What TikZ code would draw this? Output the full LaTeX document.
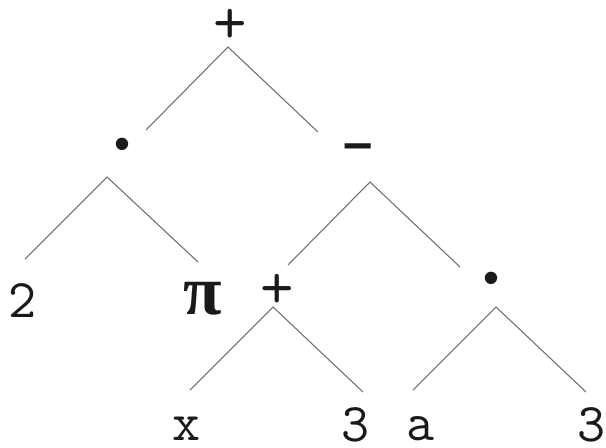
\documentclass[tikz,border=0pt]{standalone}
\usepackage{fontspec}
\newfontfamily\treepifont{Liberation Serif}
\newfontfamily\treebarfont{Liberation Sans}
\definecolor{LineGray}{HTML}{6E6E6E}
\definecolor{InkBlack}{HTML}{1A1A1A}

\begin{document}
\begin{tikzpicture}[x=0.02cm,y=-0.02cm]
    \tikzset{
      sym/.style={inner sep=0pt,text=InkBlack,font=\ttfamily\fontsize{31}{31}\selectfont},
      plussym/.style={sym,font=\ttfamily\fontsize{37}{37}\selectfont},
      pisym/.style={inner sep=0pt,text=InkBlack,font=\treepifont\bfseries\fontsize{40}{40}\selectfont},
      dotsym/.style={inner sep=0pt,text=InkBlack,font=\treebarfont\fontsize{26}{26}\selectfont},
      barsym/.style={inner sep=0pt,text=InkBlack,font=\treebarfont\bfseries\fontsize{30}{30}\selectfont},
      edge/.style={draw=LineGray,line width=0.6pt}
    }
    \useasboundingbox (0,0) rectangle (606,447);
    % operators
    \node[plussym] (sum) at (230,26) {+};
    \node[dotsym] (prodL) at (122,149) {•};
    \node[barsym] (diff) at (358,152) {–};
    \node[plussym] (sumR) at (277,291) {+};
    \node[dotsym] (prodR) at (491,283) {•};
    % leaves
    \node[sym] (two) at (23,301) {2};
    \node[pisym] (pi) at (203,299) {π};
    \node[sym] (x) at (187,429) {x};
    \node[sym] (threeL) at (356,425) {3};
    \node[sym] (a) at (421,429) {a};
    \node[sym] (threeR) at (592,425) {3};
    % tops of the branches
    \coordinate (sum-v) at (228,47);
    \coordinate (prodL-v) at (107,177);
    \coordinate (diff-v) at (370,182);
    \coordinate (sumR-v) at (273,307);
    \coordinate (prodR-v) at (496,307);
    % free ends above the children
    \coordinate (prodL-in) at (146,130);
    \coordinate (diff-in) at (318,132);
    \coordinate (two-in) at (25,259);
    \coordinate (pi-in) at (198,262);
    \coordinate (sumR-in) at (288,265);
    \coordinate (prodR-in) at (460,267);
    \coordinate (x-in) at (190,390);
    \coordinate (threeL-in) at (363,392);
    \coordinate (a-in) at (413,390);
    \coordinate (threeR-in) at (586,392);
    \draw[edge] (prodL-in) -- (sum-v) -- (diff-in);
    \draw[edge] (two-in) -- (prodL-v) -- (pi-in);
    \draw[edge] (sumR-in) -- (diff-v) -- (prodR-in);
    \draw[edge] (x-in) -- (sumR-v) -- (threeL-in);
    \draw[edge] (a-in) -- (prodR-v) -- (threeR-in);
  \end{tikzpicture}
\end{document}
